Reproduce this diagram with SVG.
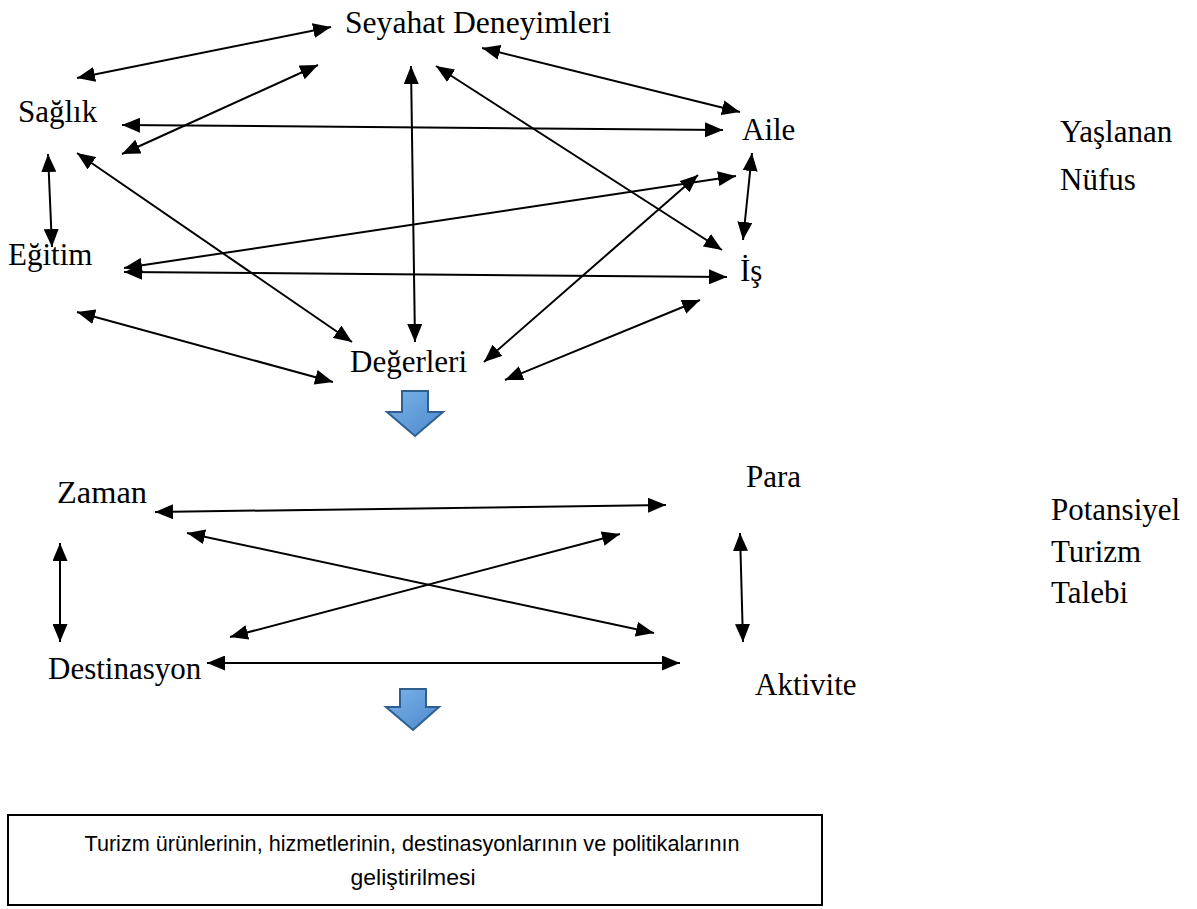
<svg xmlns="http://www.w3.org/2000/svg" width="1197" height="909" viewBox="0 0 1197 909">
<style>
.lbl{font-family:"Liberation Serif","Times New Roman",serif;font-size:31px;fill:#000}
.con line{stroke:#000;stroke-width:2;marker-start:url(#ah);marker-end:url(#ah)}
.box{fill:#fff;stroke:#000;stroke-width:2}
.boxt{font-family:"Liberation Sans",Arial,sans-serif;font-size:22px;fill:#000;text-anchor:middle}
.blk{fill:url(#bg);stroke:#2f5f8f;stroke-width:2;stroke-linejoin:miter}
</style>
<defs>
<marker id="ah" markerUnits="userSpaceOnUse" markerWidth="19" markerHeight="15" refX="18" refY="7.5" orient="auto-start-reverse" viewBox="0 0 19 15">
<path d="M0,0 L18,7.5 L0,15 z" fill="#000"/>
</marker>
<linearGradient id="bg" x1="0" y1="0" x2="1" y2="1">
<stop offset="0" stop-color="#7db3e8"/>
<stop offset="1" stop-color="#4a89cc"/>
</linearGradient>
</defs>
<rect width="1197" height="909" fill="#fff"/>
<g id="connectors" class="con">
<line x1="77" y1="78" x2="331" y2="27"/>
<line x1="122" y1="154" x2="318" y2="65"/>
<line x1="122" y1="125" x2="723" y2="130"/>
<line x1="482" y1="48" x2="740" y2="112"/>
<line x1="436" y1="66" x2="722" y2="250"/>
<line x1="411" y1="66" x2="415" y2="342"/>
<line x1="77" y1="153" x2="352" y2="342"/>
<line x1="48" y1="154" x2="52" y2="247"/>
<line x1="124" y1="268" x2="736" y2="176"/>
<line x1="124" y1="272" x2="727" y2="277"/>
<line x1="752" y1="153" x2="743" y2="240"/>
<line x1="77" y1="312" x2="333" y2="382"/>
<line x1="484" y1="362" x2="698" y2="175"/>
<line x1="505" y1="380" x2="700" y2="300"/>
<line x1="155" y1="512" x2="666" y2="505"/>
<line x1="187" y1="533" x2="654" y2="633"/>
<line x1="620" y1="534" x2="230" y2="637"/>
<line x1="60" y1="543" x2="60" y2="642"/>
<line x1="740" y1="533" x2="743" y2="642"/>
<line x1="207" y1="663" x2="680" y2="663"/>
</g>
<g id="n-seyahat"><text class="lbl" x="345" y="33" textLength="266" lengthAdjust="spacingAndGlyphs">Seyahat Deneyimleri</text></g>
<g id="n-saglik"><text class="lbl" x="18" y="122">Sağlık</text></g>
<g id="n-aile"><text class="lbl" x="742" y="140">Aile</text></g>
<g id="n-egitim"><text class="lbl" x="8" y="265">Eğitim</text></g>
<g id="n-is"><text class="lbl" x="740" y="281">İş</text></g>
<g id="n-degerleri"><text class="lbl" x="350" y="372">Değerleri</text></g>
<g id="n-yaslanan"><text class="lbl" x="1060" y="142">Yaşlanan</text><text class="lbl" x="1060" y="190">Nüfus</text></g>
<g id="n-zaman"><text class="lbl" x="57" y="503" textLength="90" lengthAdjust="spacingAndGlyphs">Zaman</text></g>
<g id="n-para"><text class="lbl" x="746" y="487">Para</text></g>
<g id="n-destinasyon"><text class="lbl" x="48" y="679">Destinasyon</text></g>
<g id="n-aktivite"><text class="lbl" x="755" y="695">Aktivite</text></g>
<g id="n-potansiyel"><text class="lbl" x="1051" y="520">Potansiyel</text><text class="lbl" x="1051" y="562">Turizm</text><text class="lbl" x="1051" y="603">Talebi</text></g>
<g id="arrow1"><path class="blk" d="M402,391 H428 V412 H443 L415,436 L387,412 H402 Z"/></g>
<g id="arrow2"><path class="blk" d="M400,689 H426 V707 H439 L413,730 L386,707 H400 Z"/></g>
<g id="n-box">
<rect class="box" x="8" y="815" width="814" height="90"/>
<text class="boxt" x="412" y="851" textLength="655" lengthAdjust="spacingAndGlyphs">Turizm ürünlerinin, hizmetlerinin, destinasyonlarının ve politikalarının</text>
<text class="boxt" x="413" y="885" textLength="125" lengthAdjust="spacingAndGlyphs">geliştirilmesi</text>
</g>
</svg>
